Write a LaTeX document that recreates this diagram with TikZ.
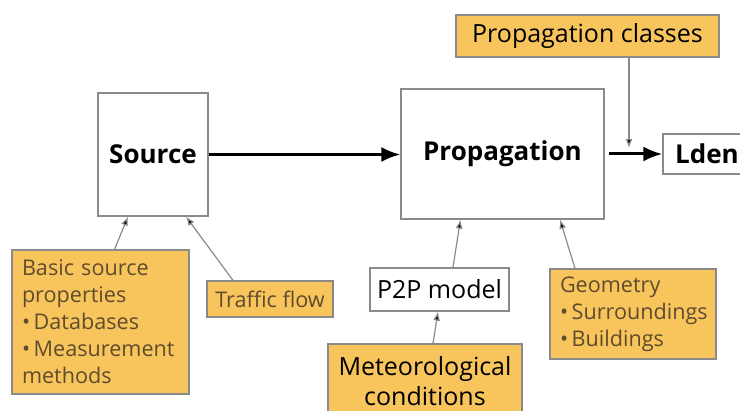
\documentclass[tikz,border=0pt]{standalone}
\usepackage{fontspec}
\setmainfont{Open Sans}
\usetikzlibrary{arrows.meta}

\definecolor{boxorange}{HTML}{F8C45C}
\definecolor{boxline}{HTML}{8A8A8A}
\definecolor{boxtext}{HTML}{5E4C2E}

\begin{document}
\begin{tikzpicture}[x=0.5pt, y=-0.5pt]
                \tikzstyle{block} = [draw=boxline, line width=0.6pt, fill=white, inner sep=0pt, font=\fontsize{13}{16}\selectfont]
                \tikzstyle{input} = [draw=boxline, line width=0.6pt, fill=boxorange, inner sep=0pt, text=boxtext, font=\fontsize{10.8}{13.5}\selectfont]
                \tikzstyle{main} = [line width=1.5pt, -{Latex[length=9.5pt, width=7.5pt]}]
                \tikzstyle{feed} = [draw=boxline, line width=0.6pt, -{Latex[length=4.5pt, width=3.5pt, fill=black]}]
                \useasboundingbox (0, 0) rectangle (740, 411);
                \node[block, minimum width=55pt, minimum height=61.5pt] (src) at (153, 154.5) {\bfseries Source};
                \node[block, minimum width=101.5pt, minimum height=65pt] (prop) at (502.5, 154) {\bfseries Propagation};
                \node[block, minimum width=44pt, minimum height=20pt] (lden) at (707, 154) {\bfseries Lden};
                \node[input, text=black, font=\fontsize{12.5}{15}\selectfont, minimum width=131.5pt, minimum height=21pt] (pclass) at (587.5, 36) {Propagation classes};
                \node[input, minimum width=88.5pt, minimum height=72pt, text width=78.5pt, align=left] (basic) at (100.5, 322) {Basic source\\ properties\\ \textbullet\,Databases\\ \textbullet\,Measurement\\ methods};
                \node[input, minimum width=63pt, minimum height=18pt] (traffic) at (270, 299) {Traffic flow};
                \node[block, font=\fontsize{12.5}{15}\selectfont, minimum width=69.5pt, minimum height=21.5pt] (p2p) at (439.5, 289.5) {P2P model};
                \node[input, text=black, font=\fontsize{12.5}{15}\selectfont, align=center, minimum width=97pt, minimum height=37pt] (meteo) at (425, 381) {Meteorological\\ conditions};
                \node[input, minimum width=83pt, minimum height=45pt, text width=73pt, align=left] (geom) at (633, 314) {Geometry\\ \textbullet\,Surroundings\\ \textbullet\,Buildings};
                \coordinate (join) at (629, 148);
                \draw[main] (src.east) -- (prop.west |- src.east);
                \draw[main] ([xshift=2pt]prop.east) -- (lden.west);
                \draw[feed] (pclass.south -| join) -- (join);
                \draw[feed] ([xshift=7pt]basic.north) -- ([xshift=-12.5pt]src.south);
                \draw[feed] ([xshift=-18.5pt]traffic.north) -- ([xshift=16.5pt]src.south);
                \draw[feed] ([xshift=4pt]meteo.north) -- ([xshift=-0.75pt]p2p.south);
                \draw[feed] ([xshift=6.75pt]p2p.north) -- ([xshift=-21pt]prop.south);
                \draw[feed] ([xshift=-29pt]geom.north) -- ([xshift=28.75pt]prop.south);
            \end{tikzpicture}
\end{document}
